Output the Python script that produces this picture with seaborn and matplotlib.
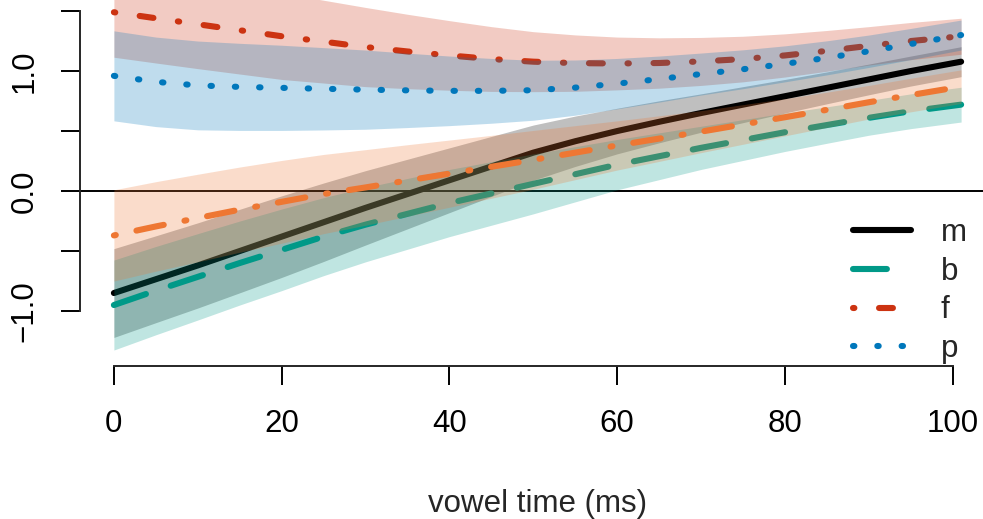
import numpy as np
import pandas as pd
import matplotlib
matplotlib.use("Agg")
import matplotlib.pyplot as plt
from matplotlib.lines import Line2D
import seaborn as sns

# ---------------- data ----------------
time_ms = [0, 5, 10, 15, 20, 25, 30, 35, 40, 45, 50, 55, 60, 65, 70, 75, 80, 85, 90, 95, 101]

# fitted curves
m_fit = [-0.85, -0.735, -0.62, -0.50, -0.38, -0.26, -0.14, -0.025, 0.09, 0.205, 0.32,
         0.415, 0.50, 0.577, 0.65, 0.72, 0.79, 0.86, 0.93, 1.0, 1.078]
b_fit = [-0.95, -0.83, -0.715, -0.60, -0.49, -0.38, -0.28, -0.19, -0.10, -0.02, 0.06,
         0.14, 0.22, 0.29, 0.36, 0.425, 0.49, 0.55, 0.61, 0.665, 0.72]
o_fit = [-0.37, -0.295, -0.225, -0.155, -0.09, -0.025, 0.03, 0.088, 0.145, 0.202, 0.26,
         0.32, 0.38, 0.437, 0.495, 0.555, 0.615, 0.677, 0.74, 0.80, 0.87]
f_fit = [1.49, 1.44, 1.39, 1.34, 1.29, 1.245, 1.20, 1.163, 1.13, 1.10, 1.078,
         1.066, 1.063, 1.067, 1.08, 1.10, 1.13, 1.168, 1.21, 1.25, 1.29]
p_fit = [0.96, 0.91, 0.88, 0.868, 0.86, 0.852, 0.845, 0.839, 0.835, 0.835, 0.84,
         0.862, 0.895, 0.933, 0.975, 1.015, 1.06, 1.11, 1.165, 1.225, 1.30]

# half-widths of the confidence bands
m_ci = [0.37, 0.362, 0.355, 0.348, 0.34, 0.327, 0.31, 0.29, 0.27, 0.25, 0.23,
        0.21, 0.19, 0.175, 0.16, 0.15, 0.14, 0.133, 0.128, 0.125, 0.125]
b_ci = [0.375, 0.368, 0.36, 0.35, 0.34, 0.325, 0.31, 0.295, 0.28, 0.265, 0.25,
        0.23, 0.21, 0.195, 0.18, 0.17, 0.16, 0.152, 0.145, 0.145, 0.145]
o_ci = [0.38, 0.373, 0.365, 0.355, 0.345, 0.33, 0.315, 0.298, 0.28, 0.262, 0.245,
        0.225, 0.205, 0.19, 0.175, 0.165, 0.155, 0.147, 0.14, 0.14, 0.14]
f_ci = [0.375, 0.373, 0.37, 0.365, 0.36, 0.345, 0.33, 0.31, 0.29, 0.27, 0.25,
        0.235, 0.22, 0.21, 0.20, 0.19, 0.18, 0.17, 0.16, 0.155, 0.15]
p_ci = [0.375, 0.373, 0.37, 0.363, 0.355, 0.343, 0.33, 0.31, 0.29, 0.27, 0.25,
        0.23, 0.21, 0.192, 0.175, 0.162, 0.15, 0.142, 0.135, 0.13, 0.125]

legend_labels = ["m", "b", "f", "p"]
x_ticks = [0, 20, 40, 60, 80, 100]
y_ticks = [-1.0, -0.5, 0.0, 0.5, 1.0, 1.5]
y_tick_labels = ["\u22121.0", "", "0.0", "", "1.0", ""]
x_label = "vowel time (ms)"

# ---------------- style ----------------
sns.set_style("ticks")
plt.rcParams["font.family"] = ["Liberation Sans", "DejaVu Sans"]
plt.rcParams["lines.scale_dashes"] = False
plt.rcParams["lines.dash_capstyle"] = "round"
plt.rcParams["lines.solid_capstyle"] = "round"
FS = 22.5

col_m = "#000000"
col_b = "#009988"
col_o = "#EE7733"
col_f = "#CC3311"
col_p = "#0077BB"
LW = 4.4
ls_m = "-"
ls_b = (0, (24.4, 18.8))
ls_o = (0, (1.4, 15.2, 20.1, 15.2))
ls_f = (0, (1.0, 17.75, 10.0, 17.75))
ls_p = (0, (1.0, 16.5))

fig = plt.figure(figsize=(9.83, 5.19), dpi=100)
ax = fig.add_axes([80 / 983, 1 - 366 / 519, (995 - 80) / 983, 366 / 519])

ax.axhline(0, color="black", lw=1.4, zorder=1)

series = [
    (m_fit, m_ci, col_m, ls_m),
    (b_fit, b_ci, col_b, ls_b),
    (o_fit, o_ci, col_o, ls_o),
    (f_fit, f_ci, col_f, ls_f),
    (p_fit, p_ci, col_p, ls_p),
]
z = 2
for fit, ci, col, ls in series:
    fit_a = np.asarray(fit)
    ci_a = np.asarray(ci)
    ax.fill_between(time_ms, fit_a - ci_a, fit_a + ci_a, color=col, alpha=0.25,
                    lw=0, zorder=z)
    df = pd.DataFrame({"t": time_ms, "y": fit})
    sns.lineplot(data=df, x="t", y="y", ax=ax, color=col, lw=LW,
                 linestyle=ls, errorbar=None, zorder=z + 1)
    z += 2

for ln in ax.lines:
    ln.set_dash_capstyle("round")
    ln.set_solid_capstyle("round")

ax.set_xlim(-4.04, 105.04)
ax.set_ylim(-1.458, 1.592)

for s in ["top", "right"]:
    ax.spines[s].set_visible(False)
ax.spines["left"].set_bounds(-1.0, 1.5)
ax.spines["bottom"].set_bounds(0, 100)
ax.spines["left"].set_linewidth(1.4)
ax.spines["bottom"].set_linewidth(1.4)

ax.set_xticks(x_ticks)
ax.set_xticklabels([str(v) for v in x_ticks])
ax.set_yticks(y_ticks)
ax.set_yticklabels(y_tick_labels, rotation=90, va="center")
ax.tick_params(axis="both", length=14, width=1.4, labelsize=FS, colors="black")
ax.tick_params(axis="x", pad=17)
ax.tick_params(axis="y", pad=15)

ax.set_xlabel(x_label, fontsize=FS, labelpad=36)
ax.set_ylabel("")

handles = [Line2D([], [], color=c, lw=LW, linestyle=l, dash_capstyle="round",
                  solid_capstyle="round")
           for c, l in [(col_m, ls_m), (col_b, ls_b), (col_f, ls_f), (col_p, ls_p)]]
leg = ax.legend(handles, legend_labels, loc="upper left",
                bbox_to_anchor=(853 / 983, 1 - 218 / 519),
                bbox_transform=fig.transFigure, frameon=False, fontsize=FS,
                handlelength=1.87, handletextpad=0.93, labelspacing=0.28,
                borderpad=0, borderaxespad=0)

fig.savefig("out.png", dpi=100)
